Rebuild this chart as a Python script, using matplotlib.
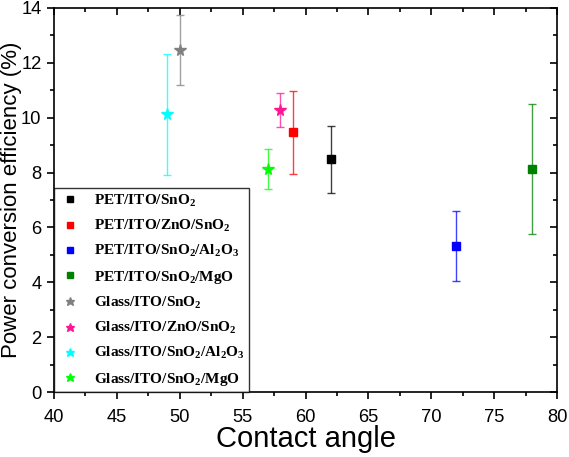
import matplotlib
matplotlib.use("Agg")
import matplotlib.pyplot as plt
from matplotlib.ticker import MultipleLocator

labels = [r"PET/ITO/SnO$_2$", r"PET/ITO/ZnO/SnO$_2$", r"PET/ITO/SnO$_2$/Al$_2$O$_3$",
          r"PET/ITO/SnO$_2$/MgO", r"Glass/ITO/SnO$_2$", r"Glass/ITO/ZnO/SnO$_2$",
          r"Glass/ITO/SnO$_2$/Al$_2$O$_3$", r"Glass/ITO/SnO$_2$/MgO"]
contact_angle = [62, 59, 72, 78, 50, 58, 49, 57]
pce = [8.48, 9.47, 5.33, 8.13, 12.47, 10.3, 10.12, 8.13]
pce_err = [1.21, 1.52, 1.27, 2.36, 1.27, 0.62, 2.22, 0.74]
colors = ["#000000", "#ff0000", "#0000ff", "#008000", "#808080", "#ff1493", "#00ffff", "#00ff00"]
markers = ["s", "s", "s", "s", "*", "*", "*", "*"]

plt.rcParams['mathtext.fontset'] = 'custom'
plt.rcParams['mathtext.rm'] = 'Liberation Serif:bold'
plt.rcParams['mathtext.bf'] = 'Liberation Serif:bold'
plt.rcParams['mathtext.it'] = 'Liberation Serif:bold'

fig = plt.figure(figsize=(5.69, 4.57), dpi=100)
ax = fig.add_axes([0.0949, 0.142, 0.8842, 0.8405])

handles = []
for x, y, e, c, m, lab in zip(contact_angle, pce, pce_err, colors, markers, labels):
    ms = 6 if m == "s" else 8.5
    ax.errorbar(x, y, yerr=e, fmt='none', ecolor=c, capsize=3, elinewidth=1,
                capthick=1, alpha=0.75)
    h, = ax.plot([x], [y], marker=m, color=c, ms=ms, linestyle='none', label=lab)
    handles.append(h)

ax.set_xlim(40, 80)
ax.set_ylim(0, 14)
ax.xaxis.set_major_locator(MultipleLocator(5))
ax.xaxis.set_minor_locator(MultipleLocator(2.5))
ax.yaxis.set_major_locator(MultipleLocator(2))
ax.yaxis.set_minor_locator(MultipleLocator(1))

for s in ax.spines.values():
    s.set_linewidth(1.2)

ax.tick_params(which='both', direction='out', top=False, right=False, width=1.2,
               labelsize=13.2)
ax.tick_params(axis='x', pad=7.5)
ax.tick_params(axis='y', pad=4)
ax.tick_params(which='major', length=5)
ax.tick_params(which='minor', length=3)
for lab in ax.get_xticklabels() + ax.get_yticklabels():
    lab.set_fontfamily('Liberation Sans')

sec = ax.secondary_xaxis('top')
sec.xaxis.set_major_locator(MultipleLocator(5))
sec.xaxis.set_minor_locator(MultipleLocator(2.5))
sec.tick_params(which='both', direction='in', labeltop=False, width=1.2)
sec.tick_params(which='major', length=5)
sec.tick_params(which='minor', length=3)
sec.spines['top'].set_visible(False)
secy = ax.secondary_yaxis('right')
secy.yaxis.set_major_locator(MultipleLocator(2))
secy.yaxis.set_minor_locator(MultipleLocator(1))
secy.tick_params(which='both', direction='in', labelright=False, width=1.2)
secy.tick_params(which='major', length=5)
secy.tick_params(which='minor', length=3)
secy.spines['right'].set_visible(False)

ax.set_xlabel("Contact angle", fontsize=21, family='Liberation Sans', labelpad=-1)
ax.set_ylabel("Power conversion efficiency (%)", fontsize=16, family='Liberation Sans', labelpad=-0.5)

leg = ax.legend(handles=handles, loc='lower left', bbox_to_anchor=(0.0, 0.0), borderaxespad=0,
                prop={'family': 'Liberation Serif', 'weight': 'bold', 'size': 11},
                frameon=True, fancybox=False, edgecolor='black', labelspacing=0.6,
                handlelength=1.5, handletextpad=0.8, borderpad=0.3, markerscale=0.75)
leg.get_frame().set_linewidth(1.0)

fig.savefig("out.png", dpi=100)
